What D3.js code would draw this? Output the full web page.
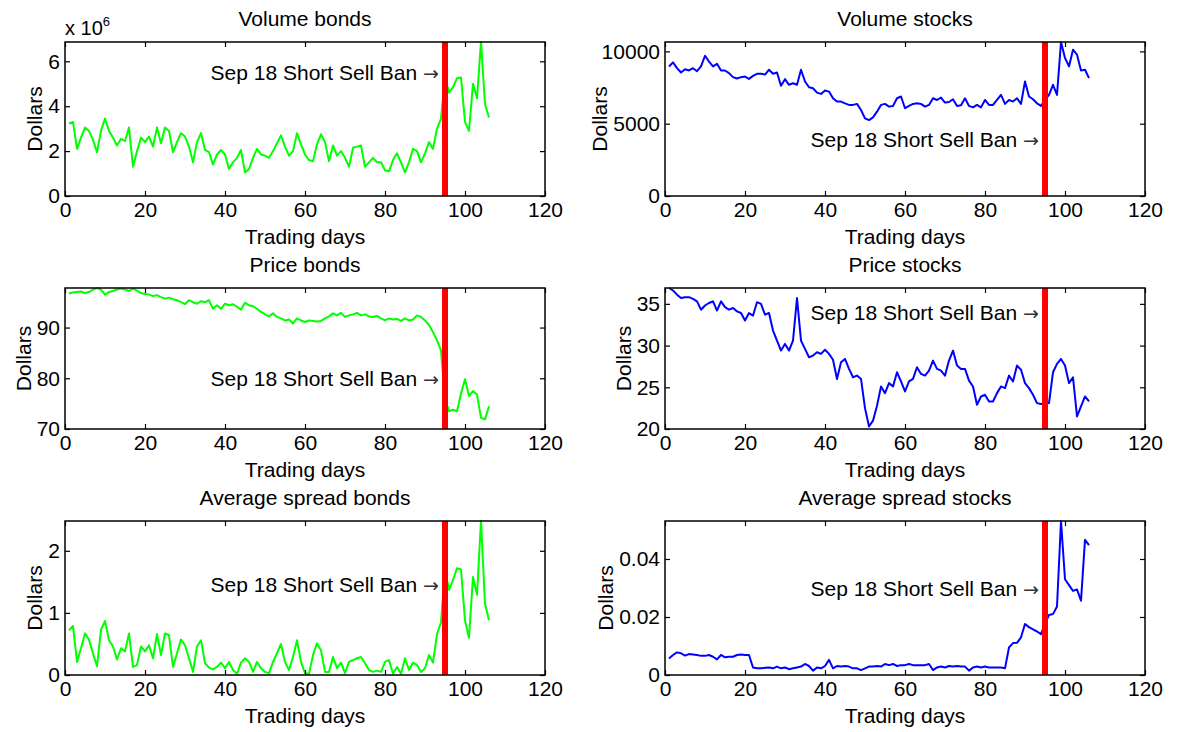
<!DOCTYPE html>
<html>
<head>
<meta charset="utf-8">
<script src="https://cdn.jsdelivr.net/npm/d3@7"></script>
<style>
  body { margin: 0; background: #fff; }
  svg text { font-family: "Liberation Sans", Arial, Helvetica, sans-serif; fill: #000; }
</style>
</head>
<body>
<svg id="chart" width="1204" height="732"></svg>
<script>
// ---- data -------------------------------------------------------------
const days = d3.range(1, 107);           // trading days 1..106
const xTicks = [0, 20, 40, 60, 80, 100, 120];
const banDay = 95;                        // Sep 18 short sell ban
const banLabel = "Sep 18 Short Sell Ban ";
const banArrow = "\u2192";

// bond trading volume, millions of dollars
const volumeBonds = [
  3.23, 3.3, 2.1, 2.6, 3.05, 2.9, 2.5, 1.95, 2.9, 3.45,
  2.9, 2.6, 2.25, 2.55, 2.45, 3.05, 1.3, 2.0, 2.6, 2.4,
  2.65, 2.2, 3.05, 2.35, 3.05, 2.9, 1.95, 2.4, 2.8, 2.65,
  2.2, 1.5, 2.4, 2.8, 2.05, 1.95, 1.4, 1.85, 2.05, 1.85,
  1.2, 1.5, 1.7, 2.05, 1.05, 1.2, 1.7, 2.1, 1.85, 1.8,
  1.7, 2.0, 2.35, 2.7, 2.2, 1.8, 2.0, 2.8, 2.3, 1.85,
  1.6, 1.55, 2.3, 2.75, 2.4, 1.55, 2.25, 1.8, 2.0, 1.7,
  1.3, 2.15, 2.2, 2.25, 1.3, 1.5, 1.7, 1.5, 1.5, 1.15,
  1.1, 1.6, 1.9, 1.5, 1.05, 1.5, 2.1, 2.0, 1.5, 1.9,
  2.4, 2.1, 3.0, 3.45, 5.3, 4.6, 4.85, 5.25, 5.28, 3.3,
  2.9, 5.0, 4.35, 6.86, 4.1, 3.5
];
const volumeStocks = [
  8960, 9240, 8840, 8540, 8770, 8680, 8840, 8630, 8960, 9700,
  9300, 8960, 9140, 8680, 8680, 8500, 8220, 8130, 8220, 8260,
  8100, 8310, 8450, 8450, 8400, 8730, 8450, 8540, 7620, 8080,
  7690, 7800, 7690, 8730, 7920, 7520, 7450, 7150, 7060, 7290,
  7220, 6760, 6530, 6530, 6410, 6300, 6300, 6370, 5950, 5370,
  5250, 5440, 5830, 6300, 6370, 6180, 6230, 6760, 6880, 6070,
  6230, 6370, 6410, 6370, 6180, 6300, 6760, 6640, 6810, 6460,
  6500, 6690, 6230, 6270, 6760, 6230, 6130, 6300, 6130, 6640,
  6300, 6300, 6640, 6990, 6370, 6640, 6530, 6760, 6370, 7920,
  6880, 6690, 6410, 6230, 6640, 6990, 7690, 6990, 10650, 9540,
  8960, 10120, 9770, 8680, 8730, 8150
];
const priceBonds = [
  96.7, 96.9, 97.0, 97.1, 96.8, 97.0, 97.5, 97.8, 97.5, 96.5,
  97.0, 97.2, 97.5, 97.7, 97.5, 97.2, 97.7, 97.3, 96.8, 96.6,
  96.5, 96.2, 96.4, 96.0, 95.7, 95.9, 95.6, 95.4, 95.0, 94.6,
  95.4, 95.0, 94.7, 95.2, 95.0, 95.4, 93.7, 94.4, 93.7, 94.7,
  94.4, 94.6, 94.1, 93.5, 94.9, 94.4, 94.2, 93.7, 93.1, 92.6,
  92.2, 92.8, 92.1, 91.8, 91.4, 91.6, 90.8, 91.8, 91.4, 91.1,
  91.4, 91.3, 91.2, 91.3, 91.8, 92.2, 92.8, 92.4, 92.9, 92.1,
  92.4, 92.6, 92.9, 92.4, 92.6, 92.2, 92.1, 92.3, 91.8, 91.4,
  91.8, 91.6, 91.7, 91.3, 91.8, 91.4, 91.6, 92.4, 92.1, 91.4,
  90.5, 89.1, 87.5, 85.5, 76.0, 73.5, 73.8, 73.5, 77.0, 79.8,
  76.5, 77.5, 76.8, 72.2, 71.9, 74.5
];
const priceStocks = [
  36.9, 36.6, 36.1, 35.7, 35.8, 35.8, 35.6, 35.3, 34.3, 34.8,
  35.1, 35.3, 34.2, 35.3, 34.6, 34.3, 34.5, 34.1, 33.9, 33.0,
  33.9, 33.6, 35.2, 35.0, 33.7, 33.9, 31.8, 30.6, 29.4, 30.2,
  29.4, 30.6, 35.7, 30.6, 29.6, 28.6, 28.8, 29.2, 29.0, 29.5,
  29.0, 28.3, 26.0, 28.0, 28.4, 27.2, 26.2, 26.4, 26.0, 22.5,
  20.3, 21.0, 22.8, 25.1, 24.3, 25.5, 25.1, 26.8, 25.7, 24.5,
  25.7, 26.0, 27.4, 26.6, 26.4, 27.0, 28.2, 27.2, 27.0, 26.4,
  28.2, 29.4, 27.6, 27.2, 27.2, 25.8, 25.1, 22.9, 23.9, 24.1,
  23.3, 23.3, 24.3, 25.1, 24.9, 26.4, 25.7, 27.6, 27.1, 25.5,
  24.9, 24.1, 23.1, 23.0, 23.0, 23.1, 26.8, 27.8, 28.4, 27.6,
  25.5, 26.2, 21.5, 22.7, 23.9, 23.3
];
const spreadBonds = [
  0.72, 0.79, 0.21, 0.43, 0.67, 0.57, 0.35, 0.14, 0.73, 0.87,
  0.56, 0.46, 0.25, 0.43, 0.38, 0.67, 0.13, 0.16, 0.46, 0.38,
  0.48, 0.27, 0.66, 0.32, 0.67, 0.64, 0.13, 0.35, 0.57, 0.48,
  0.27, 0.05, 0.46, 0.56, 0.19, 0.12, 0.09, 0.13, 0.20, 0.11,
  0.21, 0.08, 0.02, 0.20, 0.27, 0.21, 0.05, 0.21, 0.11, 0.05,
  0.03, 0.21, 0.35, 0.50, 0.21, 0.08, 0.29, 0.56, 0.21, 0.03,
  0.02, 0.32, 0.51, 0.40, 0.05, 0.05, 0.29, 0.11, 0.20, 0.03,
  0.21, 0.24, 0.27, 0.29, 0.19, 0.08, 0.05, 0.07, 0.05, 0.21,
  0.24, 0.02, 0.13, 0.02, 0.27, 0.08, 0.20, 0.16, 0.05, 0.11,
  0.32, 0.20, 0.66, 0.85, 1.70, 1.37, 1.53, 1.72, 1.70, 0.88,
  0.60, 1.58, 1.29, 2.48, 1.15, 0.88
];
const spreadStocks = [
  0.0057, 0.0069, 0.0078, 0.0075, 0.0067, 0.0072, 0.0071, 0.0069, 0.0066, 0.0066,
  0.0069, 0.0063, 0.0054, 0.0069, 0.0061, 0.0063, 0.0063, 0.0069, 0.0071, 0.0069,
  0.0069, 0.0026, 0.0023, 0.0023, 0.0025, 0.0026, 0.0023, 0.0029, 0.0023, 0.0026,
  0.0020, 0.0023, 0.0026, 0.0029, 0.0038, 0.0031, 0.0015, 0.0026, 0.0023, 0.0031,
  0.0052, 0.0023, 0.0031, 0.0029, 0.0031, 0.0029, 0.0023, 0.0023, 0.0017, 0.0023,
  0.0029, 0.0029, 0.0031, 0.0029, 0.0038, 0.0034, 0.0038, 0.0031, 0.0034, 0.0034,
  0.0038, 0.0034, 0.0034, 0.0034, 0.0034, 0.0038, 0.0017, 0.0026, 0.0029, 0.0026,
  0.0031, 0.0029, 0.0031, 0.0029, 0.0029, 0.0015, 0.0026, 0.0029, 0.0026, 0.0029,
  0.0026, 0.0026, 0.0026, 0.0026, 0.0023, 0.0095, 0.0110, 0.0111, 0.0130, 0.0176,
  0.0165, 0.0157, 0.0150, 0.0141, 0.0175, 0.0207, 0.0210, 0.0236, 0.0531, 0.0330,
  0.0310, 0.0290, 0.0295, 0.0256, 0.0466, 0.0448
];

// y ticks per panel
const ticksVolumeBonds = [0, 2, 4, 6];
const ticksVolumeStocks = [0, 5000, 10000];
const ticksPriceBonds = [70, 80, 90];
const ticksPriceStocks = [20, 25, 30, 35];
const ticksSpreadBonds = [0, 1, 2];
const ticksSpreadStocks = [0, 0.02, 0.04];

const panels = [
  { title: "Volume bonds",          values: volumeBonds,  color: "#00ff00", yMin: 0,  ticks: ticksVolumeBonds,  labelY: 5.48,  col: 0, row: 0, exponent: "6" },
  { title: "Volume stocks",         values: volumeStocks, color: "#0000ff", yMin: 0,  ticks: ticksVolumeStocks, labelY: 3910,  col: 1, row: 0 },
  { title: "Price bonds",           values: priceBonds,   color: "#00ff00", yMin: 70, ticks: ticksPriceBonds,   labelY: 80,    col: 0, row: 1 },
  { title: "Price stocks",          values: priceStocks,  color: "#0000ff", yMin: 20, ticks: ticksPriceStocks,  labelY: 33.9,  col: 1, row: 1 },
  { title: "Average spread bonds",  values: spreadBonds,  color: "#00ff00", yMin: 0,  ticks: ticksSpreadBonds,  labelY: 1.46,  col: 0, row: 2 },
  { title: "Average spread stocks", values: spreadStocks, color: "#0000ff", yMin: 0,  ticks: ticksSpreadStocks, labelY: 0.0299, col: 1, row: 2 }
];

// ---- layout -----------------------------------------------------------
const FONT = 21;
const colLeft = [65, 665];
const plotW = 480;
const rowBox = [ { top: 42, bottom: 196 }, { top: 288, bottom: 429 }, { top: 521, bottom: 675 } ];

const svg = d3.select("#chart");

const fmt = v => {
  if (v === 0) return "0";
  if (Math.abs(v) < 1) return d3.format(".2f")(v);
  return d3.format("d")(v);
};

panels.forEach(p => {
  const left = colLeft[p.col], right = left + plotW;
  const top = rowBox[p.row].top, bottom = rowBox[p.row].bottom;

  const x = d3.scaleLinear().domain([0, 120]).range([left, right]);
  const y = d3.scaleLinear().domain([p.yMin, d3.max(p.values)]).range([bottom, top]);

  const g = svg.append("g");

  // series line
  const pts = days.map((d, i) => ({ day: d, value: p.values[i] }));
  g.append("path")
    .datum(pts)
    .attr("fill", "none")
    .attr("stroke", p.color)
    .attr("stroke-width", 2)
    .attr("stroke-linejoin", "round")
    .attr("d", d3.line().x(d => x(d.day)).y(d => y(d.value)));

  // ban marker
  g.append("line")
    .attr("x1", x(banDay)).attr("x2", x(banDay))
    .attr("y1", y.range()[0]).attr("y2", y.range()[1])
    .attr("stroke", "#ff0000")
    .attr("stroke-width", 6);

  // axes: ticks inside on all four sides
  g.append("g")
    .attr("transform", `translate(0,${bottom})`)
    .call(d3.axisBottom(x).tickValues(xTicks).tickFormat(d3.format("d"))
      .tickSizeInner(-5).tickSizeOuter(0).tickPadding(6));
  const leftAxis = g.append("g")
    .attr("transform", `translate(${left},0)`)
    .call(d3.axisLeft(y).tickValues(p.ticks).tickFormat(fmt)
      .tickSizeInner(-5).tickSizeOuter(0).tickPadding(5));
  g.append("g")
    .attr("transform", `translate(0,${top})`)
    .call(d3.axisTop(x).tickValues(xTicks).tickFormat("").tickSizeInner(-5).tickSizeOuter(0));
  g.append("g")
    .attr("transform", `translate(${right},0)`)
    .call(d3.axisRight(y).tickValues(p.ticks).tickFormat("").tickSizeInner(-5).tickSizeOuter(0));

  g.selectAll(".domain").remove();
  g.selectAll(".tick line").attr("stroke", "#000").attr("stroke-width", 1.2);
  g.selectAll(".tick text").attr("font-size", FONT).attr("font-family", null).attr("fill", "#000");

  // box
  g.append("rect")
    .attr("x", left).attr("y", top)
    .attr("width", plotW).attr("height", bottom - top)
    .attr("fill", "none").attr("stroke", "#000").attr("stroke-width", 1.5);

  // ban annotation
  const note = g.append("text")
    .attr("x", x(banDay) - 6)
    .attr("y", y(p.labelY))
    .attr("dy", "0.35em")
    .attr("text-anchor", "end")
    .attr("font-size", FONT)
    .text(banLabel);
  note.append("tspan")
    .attr("font-family", "DejaVu Sans")
    .attr("font-size", FONT - 2)
    .attr("fill", "#333")
    .text(banArrow);

  // title
  g.append("text")
    .attr("x", (left + right) / 2).attr("y", top - 16)
    .attr("text-anchor", "middle")
    .attr("font-size", FONT)
    .text(p.title);

  // x label
  g.append("text")
    .attr("x", (left + right) / 2).attr("y", bottom + 48)
    .attr("text-anchor", "middle")
    .attr("font-size", FONT)
    .text("Trading days");

  // y label: sits clear of the tick labels that share its vertical span
  const ly = (top + bottom) / 2;
  const ylab = g.append("text")
    .attr("text-anchor", "middle")
    .attr("font-size", FONT)
    .text("Dollars");
  const half = ylab.node().getComputedTextLength() / 2;
  let minX = left - 5;
  leftAxis.selectAll(".tick").each(function (v) {
    const ty = y(v);
    const tb = this.querySelector("text").getBBox();
    if (ty + tb.height / 2 > ly - half && ty - tb.height / 2 < ly + half) {
      minX = Math.min(minX, left + tb.x);
    }
  });
  ylab.attr("transform", `translate(${minX - 6},${ly}) rotate(-90)`);

  // exponent marker above the axis
  if (p.exponent) {
    const t = g.append("text")
      .attr("x", left).attr("y", top - 7)
      .attr("font-size", FONT - 1)
      .text("x 10");
    t.append("tspan")
      .attr("dy", -9)
      .attr("font-size", 13)
      .text(p.exponent);
  }
});
</script>
</body>
</html>
